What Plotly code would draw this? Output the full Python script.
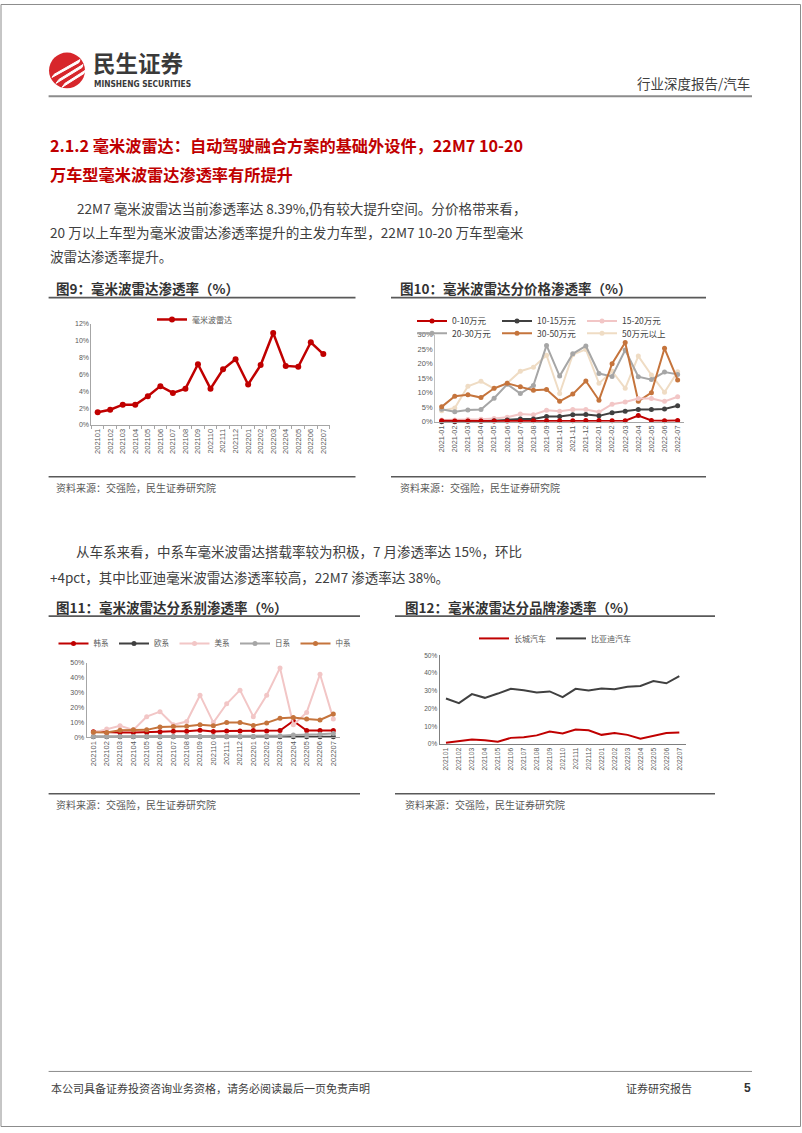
import plotly.graph_objects as go

W, H = 802, 1133
def X(px): return px / W
def Y(py): return 1 - py / H

CJK = "Noto Sans CJK SC"

# ---------------- data ----------------
months = ["202101", "202102", "202103", "202104", "202105", "202106", "202107", "202108", "202109",
          "202110", "202111", "202112", "202201", "202202", "202203", "202204", "202205", "202206", "202207"]
months_dash = ["2021-01", "2021-02", "2021-03", "2021-04", "2021-05", "2021-06", "2021-07", "2021-08", "2021-09",
               "2021-10", "2021-11", "2021-12", "2022-01", "2022-02", "2022-03", "2022-04", "2022-05", "2022-06", "2022-07"]

# Fig 9: overall mmWave radar penetration (%)
radar_total = [1.5, 1.8, 2.4, 2.4, 3.4, 4.6, 3.8, 4.3, 7.2, 4.3, 6.6, 7.8, 4.8, 7.1, 10.9, 7.0, 6.9, 9.8, 8.4]

# Fig 10: by price band (%)
band_names = ["0-10万元", "10-15万元", "15-20万元", "20-30万元", "30-50万元", "50万元以上"]
band_0_10 = [0.3, 0.2, 0.2, 0.2, 0.2, 0.2, 0.2, 0.3, 0.3, 0.3, 0.3, 0.4, 0.4, 0.3, 0.3, 2.1, 0.4, 0.3, 0.4]
band_10_15 = [0.0, 0.0, 0.1, 0.1, 0.3, 0.6, 0.9, 0.9, 1.8, 1.8, 2.4, 2.5, 2.0, 3.1, 3.6, 4.2, 4.2, 4.4, 5.5]
band_15_20 = [0.6, 0.6, 0.7, 0.8, 1.1, 1.5, 2.6, 2.4, 3.9, 3.6, 4.2, 4.2, 3.3, 6.0, 6.8, 8.0, 8.0, 7.0, 8.6]
band_20_30 = [4.3, 3.4, 4.0, 4.2, 8.1, 12.9, 9.7, 12.5, 26.3, 15.7, 23.4, 26.1, 16.6, 15.6, 24.7, 15.5, 14.5, 17.1, 16.3]
band_30_50 = [5.1, 8.8, 9.3, 8.3, 11.5, 13.2, 12.0, 10.8, 11.1, 7.0, 9.5, 14.0, 7.4, 20.0, 27.3, 7.0, 10.0, 25.3, 14.4]
band_50_up = [3.8, 4.7, 12.2, 13.9, 11.4, 13.3, 17.4, 18.8, 22.9, 9.7, 23.1, 24.9, 13.2, 17.4, 11.5, 22.6, 16.1, 10.1, 17.2]

# Fig 11: by origin (%)
origin_names = ["韩系", "欧系", "美系", "日系", "中系"]
origin_kr = [3.6, 3.1, 3.1, 3.1, 3.1, 3.6, 4.0, 4.0, 4.7, 3.8, 4.2, 4.2, 4.5, 4.2, 4.5, 10.9, 4.5, 4.5, 4.5]
origin_eu = [0.3, 0.3, 0.3, 0.3, 0.3, 0.3, 0.3, 0.3, 0.3, 0.3, 0.3, 0.3, 0.3, 0.3, 0.3, 0.3, 0.3, 0.3, 0.3]
origin_us = [3.0, 5.4, 7.6, 4.9, 13.8, 17.2, 8.3, 10.5, 28.3, 9.8, 22.5, 31.7, 13.8, 28.3, 46.7, 8.3, 16.7, 42.4, 12.3]
origin_jp = [0.5, 0.5, 0.5, 0.5, 0.5, 0.5, 0.5, 0.5, 0.5, 0.5, 0.5, 0.5, 0.5, 0.8, 1.0, 1.5, 1.5, 2.0, 2.5]
origin_cn = [3.3, 3.1, 4.7, 4.9, 4.9, 6.9, 7.1, 7.4, 8.3, 7.6, 9.8, 9.8, 7.8, 9.6, 12.7, 13.2, 12.3, 11.6, 15.6]

# Fig 12: by brand (%)
brand_names = ["长城汽车", "比亚迪汽车"]
brand_gwm = [0.7, 1.5, 2.6, 2.1, 1.3, 3.5, 3.9, 4.9, 7.1, 6.0, 8.2, 7.8, 5.2, 6.3, 5.2, 3.0, 4.5, 6.2, 6.5]
brand_byd = [25.7, 23.1, 28.2, 26.1, 28.5, 31.2, 30.4, 29.1, 29.7, 26.5, 31.2, 30.2, 31.3, 31.0, 32.3, 32.8, 35.6, 34.3, 38.4]

# ---------------- colours ----------------
RED = "#c00000"
DARK = "#404040"
PINK = "#f2c6c6"
GRAY = "#a6a6a6"
BROWN = "#c5743c"
BEIGE = "#efdcc4"

fig = go.Figure()

# Fig 9
fig.add_trace(go.Scatter(x=months, y=radar_total, name="毫米波雷达", mode="lines+markers",
                         line=dict(color=RED, width=2.5), marker=dict(size=6, color=RED),
                         xaxis="x", yaxis="y", legend="legend", cliponaxis=False))

# Fig 10 (draw order chosen so that red/dark lie on top at the bottom)
band_series = [
    (band_50_up, band_names[5], BEIGE, "legend3", 6),
    (band_20_30, band_names[3], GRAY, "legend3", 4),
    (band_30_50, band_names[4], BROWN, "legend3", 5),
    (band_15_20, band_names[2], PINK, "legend2", 3),
    (band_10_15, band_names[1], DARK, "legend2", 2),
    (band_0_10, band_names[0], RED, "legend2", 1),
]
for vals, nm, col, lg, rank in band_series:
    fig.add_trace(go.Scatter(x=months_dash, y=vals, name=nm, mode="lines+markers",
                             line=dict(color=col, width=2), marker=dict(size=5, color=col),
                             xaxis="x2", yaxis="y2", legend=lg, legendrank=rank, cliponaxis=False))

# Fig 11
origin_series = [
    (origin_kr, origin_names[0], RED),
    (origin_eu, origin_names[1], DARK),
    (origin_us, origin_names[2], PINK),
    (origin_jp, origin_names[3], GRAY),
    (origin_cn, origin_names[4], BROWN),
]
for vals, nm, col in origin_series:
    fig.add_trace(go.Scatter(x=months, y=vals, name=nm, mode="lines+markers",
                             line=dict(color=col, width=2), marker=dict(size=5, color=col),
                             xaxis="x3", yaxis="y3", legend="legend4", cliponaxis=False))

# Fig 12
fig.add_trace(go.Scatter(x=months, y=brand_gwm, name=brand_names[0], mode="lines",
                         line=dict(color=RED, width=2), xaxis="x4", yaxis="y4", legend="legend5"))
fig.add_trace(go.Scatter(x=months, y=brand_byd, name=brand_names[1], mode="lines",
                         line=dict(color=DARK, width=2), xaxis="x4", yaxis="y4", legend="legend5"))

# ---------------- axes ----------------
def xax(l, r, anchor, size, linecolor, ticks=False):
    d = dict(domain=[X(l), X(r)], anchor=anchor, type="category", range=[-0.5, 18.5],
             tickmode="linear", tick0=0, dtick=1,
             tickangle=-90, tickfont=dict(size=size, color="#595959", family="Liberation Sans"),
             showline=True, linecolor=linecolor, linewidth=1, showgrid=False, zeroline=False,
             fixedrange=True)
    if ticks:
        d.update(ticks="outside", tickson="boundaries", ticklen=3, tickcolor=linecolor)
    return d

def yax(top, bot, anchor, rng, dt, size, linecolor):
    return dict(domain=[Y(bot), Y(top)], anchor=anchor, range=rng, dtick=dt, ticksuffix="%",
                tickfont=dict(size=size, color="#595959", family="Liberation Sans"),
                showline=True, linecolor=linecolor, linewidth=1, showgrid=False, zeroline=False,
                fixedrange=True)

fig.update_layout(
    xaxis=xax(91.4, 329.6, "y", 7.5, "#a6a6a6", ticks=True),
    yaxis=yax(322.3, 424.3, "x", [0, 12], 2, 7, "#a6a6a6"),
    xaxis2=xax(435.1, 684.2, "y2", 7.3, "#a6a6a6"),
    yaxis2=yax(333.3, 421.0, "x2", [0, 30], 5, 7.5, "#bfbfbf"),
    xaxis3=xax(86.7, 340.0, "y3", 7.5, "#a6a6a6"),
    yaxis3=yax(664.3, 739.0, "x3", [0, 50], 10, 7, "#a6a6a6"),
    xaxis4=xax(439.5, 685.8, "y4", 6.8, "#7f7f7f"),
    yaxis4=yax(656.7, 746.0, "x4", [0, 50], 10, 6.5, "#7f7f7f"),
)

legend_common = dict(orientation="h", bgcolor="rgba(0,0,0,0)", xanchor="left", yanchor="middle",
                     font=dict(size=8, color="#595959", family=CJK), tracegroupgap=0)
fig.update_layout(
    legend=dict(legend_common, x=X(152), y=Y(318)),
    legend2=dict(legend_common, x=X(412), y=Y(319.5), entrywidth=40, font=dict(size=8.5, color="#404040", family=CJK)),
    legend3=dict(legend_common, x=X(412), y=Y(332), entrywidth=40, font=dict(size=8.5, color="#404040", family=CJK)),
    legend4=dict(legend_common, x=X(205), xanchor="center", y=Y(644.5), font=dict(size=7.5, color="#595959", family=CJK)),
    legend5=dict(legend_common, x=X(555), xanchor="center", y=Y(639.5), font=dict(size=8, color="#595959", family=CJK)),
)

# ---------------- page decoration ----------------
shapes = []
def hline(y, x0, x1, color, w):
    shapes.append(dict(type="line", xref="paper", yref="paper", x0=X(x0), x1=X(x1), y0=Y(y), y1=Y(y),
                       line=dict(color=color, width=w)))

# page border
shapes.append(dict(type="rect", xref="paper", yref="paper", x0=X(1), x1=X(800.5), y0=Y(1131.5), y1=Y(0.5),
                   line=dict(color="#8c8c8c", width=1), fillcolor="rgba(0,0,0,0)"))
# header rule
hline(93, 48.6, 752, "#8c8c8c", 2)
# figure title rules
hline(296, 48.6, 355.5, "#595959", 1.6)
hline(296, 391, 706, "#595959", 1.6)
hline(476.5, 48.6, 355.5, "#595959", 1.6)
hline(476.5, 391, 706, "#595959", 1.6)
hline(617, 48.6, 360, "#595959", 1.6)
hline(617, 395, 715, "#595959", 1.6)
hline(796, 48.6, 360, "#595959", 1.6)
hline(796, 395, 715, "#595959", 1.6)
# footer rule
hline(1076, 48.6, 752, "#8c8c8c", 1)

# logo
shapes.append(dict(type="circle", xref="paper", yref="paper", x0=X(49), x1=X(85), y0=Y(85), y1=Y(49),
                   fillcolor="#d7262b", line=dict(width=0)))
def pth(points):
    s = "M %f,%f" % (X(points[0][0]), Y(points[0][1]))
    for p in points[1:]:
        s += " L %f,%f" % (X(p[0]), Y(p[1]))
    return s + " Z"
for pts in [
    [(52, 74), (54, 71), (80, 56), (79, 59)],
    [(56, 80), (59, 76), (83, 61), (82, 64)],
    [(62, 84), (65, 80), (85, 67), (84, 70)],
]:
    shapes.append(dict(type="path", xref="paper", yref="paper", path=pth(pts),
                       fillcolor="white", line=dict(color="white", width=1)))

annotations = []
def txt(x, y, s, size, color="#404040", bold=False, anchor="left", family=CJK):
    if bold:
        s = "<b>" + s + "</b>"
    annotations.append(dict(x=X(x), y=Y(y), xref="paper", yref="paper", text=s, showarrow=False,
                            xanchor=anchor, yanchor="middle", font=dict(size=size, color=color, family=family)))

txt(91, 58, "民生证券", 22.5, "#3a3a3a", bold=True)
txt(91.5, 81, "MINSHENG SECURITIES", 8.3, "#3a3a3a", bold=True,
    family="Liberation Sans Narrow, DejaVu Sans Condensed, Roboto")
txt(752, 80, "行业深度报告/汽车", 13.5, "#404040", anchor="right")

txt(48, 142, "2.1.2 毫米波雷达：自动驾驶融合方案的基础外设件，22M7 10-20", 16.2, RED, bold=True)
txt(48, 171, "万车型毫米波雷达渗透率有所提升", 16.2, RED, bold=True)

txt(75, 206, "22M7 毫米波雷达当前渗透率达 8.39%,仍有较大提升空间。分价格带来看，", 13.6)
txt(48, 230, "20 万以上车型为毫米波雷达渗透率提升的主发力车型，22M7 10-20 万车型毫米", 13.6)
txt(48, 254, "波雷达渗透率提升。", 13.6)

txt(54, 286.5, "图9：毫米波雷达渗透率（%）", 13.5, "#333333", bold=True)
txt(398, 286.5, "图10：毫米波雷达分价格渗透率（%）", 13.5, "#333333", bold=True)
txt(54, 487.5, "资料来源：交强险，民生证券研究院", 10, "#595959")
txt(398, 487.5, "资料来源：交强险，民生证券研究院", 10, "#595959")

txt(74, 551.5, "从车系来看，中系车毫米波雷达搭载率较为积极，7 月渗透率达 15%，环比", 13.5)
txt(48, 578, "+4pct，其中比亚迪毫米波雷达渗透率较高，22M7 渗透率达 38%。", 13.5)

txt(54, 607.5, "图11：毫米波雷达分系别渗透率（%）", 13.5, "#333333", bold=True)
txt(403, 607.5, "图12：毫米波雷达分品牌渗透率（%）", 13.5, "#333333", bold=True)
txt(54, 807, "资料来源：交强险，民生证券研究院", 10, "#595959")
txt(403, 807, "资料来源：交强险，民生证券研究院", 10, "#595959")

txt(48.6, 1093, "本公司具备证券投资咨询业务资格，请务必阅读最后一页免责声明", 11, "#404040")
txt(624, 1093, "证券研究报告", 11, "#404040")
txt(742, 1093, "5", 12, "#333333", bold=True, family="Liberation Sans")

fig.update_layout(
    width=W, height=H, margin=dict(l=0, r=0, t=0, b=0, pad=0),
    paper_bgcolor="white", plot_bgcolor="white",
    shapes=shapes, annotations=annotations, showlegend=True,
    font=dict(family=CJK),
)

fig.write_html("out.html")
